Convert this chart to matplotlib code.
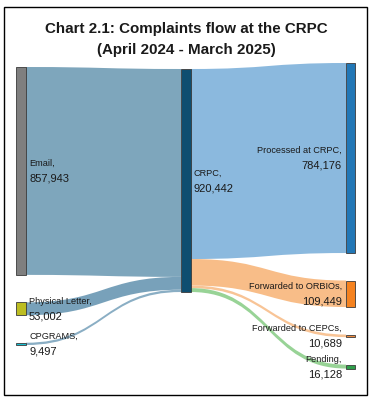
import matplotlib
matplotlib.use("Agg")
import matplotlib.pyplot as plt
from matplotlib.path import Path
from matplotlib.patches import PathPatch, Rectangle
from matplotlib import font_manager
from matplotlib.font_manager import FontProperties

# ---------------- data ----------------
nodes = ["Email", "Physical Letter", "CPGRAMS", "CRPC",
         "Processed at CRPC", "Forwarded to ORBIOs", "Forwarded to CEPCs", "Pending"]
node_columns = [0, 0, 0, 1, 2, 2, 2, 2]
link_sources = ["Email", "Physical Letter", "CPGRAMS", "CRPC", "CRPC", "CRPC", "CRPC"]
link_targets = ["CRPC", "CRPC", "CRPC", "Processed at CRPC", "Forwarded to ORBIOs",
                "Forwarded to CEPCs", "Pending"]
link_values = [857943, 53002, 9497, 784176, 109449, 10689, 16128]
title_lines = ["Chart 2.1: Complaints flow at the CRPC", "(April 2024 - March 2025)"]

# ---------------- styles ----------------
node_colors = {"Email": "#7f7f7f", "Physical Letter": "#bcbd22", "CPGRAMS": "#17becf",
               "CRPC": "#0e4e70", "Processed at CRPC": "#2277b6",
               "Forwarded to ORBIOs": "#f5821f", "Forwarded to CEPCs": "#f08a3e",
               "Pending": "#2e9e4a"}
link_colors = ["#7ea6bc", "#78a1ba", "#8aaec4", "#8bb9de", "#f8bd88", "#f8c496", "#98d396"]

narrow = [f.fname for f in font_manager.fontManager.ttflist
          if "LiberationSansNarrow-Regular" in f.fname.replace(" ", "")]
if narrow:
    name_fp = FontProperties(fname=narrow[0], size=7.6)
    num_fp = FontProperties(fname=narrow[0], size=9.2)
else:
    name_fp = FontProperties(family="Liberation Sans", size=6.6)
    num_fp = FontProperties(family="Liberation Sans", size=8.0)

W, H = 372, 400
K = 4127.0                      # complaints per pixel
col_x = [16, 181, 346]          # left edge of node columns (px)
col_w = [10, 10, 9]
col_top = [67, 69, 63]          # px
GAP = 27.5                      # px between nodes in a column

fig = plt.figure(figsize=(W / 100, H / 100), dpi=100)
ax = fig.add_axes([0, 0, 1, 1])
ax.set_xlim(0, W)
ax.set_ylim(H * K, 0)
ax.axis("off")

# node values
node_val = {}
for n in nodes:
    vin = sum(v for s, t, v in zip(link_sources, link_targets, link_values) if t == n)
    vout = sum(v for s, t, v in zip(link_sources, link_targets, link_values) if s == n)
    node_val[n] = max(vin, vout)

# node positions
pos = {}
cursor = {c: col_top[c] * K for c in range(3)}
for n, c in zip(nodes, node_columns):
    y0 = cursor[c]
    y1 = y0 + node_val[n]
    pos[n] = (c, y0, y1)
    cursor[c] = y1 + GAP * K

# links
out_off = {n: pos[n][1] for n in nodes}
in_off = {n: pos[n][1] for n in nodes}
for s, t, v, lc in zip(link_sources, link_targets, link_values, link_colors):
    cs, cl = pos[s][0], pos[t][0]
    x0 = col_x[cs] + col_w[cs]
    x1 = col_x[cl]
    xm = (x0 + x1) / 2
    s0, s1 = out_off[s], out_off[s] + v
    t0, t1 = in_off[t], in_off[t] + v
    out_off[s] = s1
    in_off[t] = t1
    verts = [(x0, s0), (xm, s0), (xm, t0), (x1, t0), (x1, t1),
             (xm, t1), (xm, s1), (x0, s1), (x0, s0)]
    codes = [Path.MOVETO, Path.CURVE4, Path.CURVE4, Path.CURVE4, Path.LINETO,
             Path.CURVE4, Path.CURVE4, Path.CURVE4, Path.CLOSEPOLY]
    ax.add_patch(PathPatch(Path(verts, codes), facecolor=lc, edgecolor="none", zorder=1))

# nodes + labels
for n in nodes:
    c, y0, y1 = pos[n]
    ax.add_patch(Rectangle((col_x[c], y0), col_w[c], y1 - y0, facecolor=node_colors[n],
                           edgecolor="#3a3a3a", linewidth=0.6, zorder=2))
    yc = (y0 + y1) / 2
    if c < 2:
        tx, ha = col_x[c] + col_w[c] + 3, "left"
    else:
        tx, ha = col_x[c] - 4, "right"
    ax.text(tx, yc - 7.5 * K, n + ",", ha=ha, va="center", fontproperties=name_fp,
            color="#1a1a1a", zorder=3)
    ax.text(tx, yc + 7.5 * K, f"{node_val[n]:,}", ha=ha, va="center", fontproperties=num_fp,
            color="#1a1a1a", zorder=3)

# title
fig.text(0.5, 1 - 29 / H, title_lines[0], ha="center", va="center", fontsize=10.9,
         fontweight="bold", family="Liberation Sans", color="#1a1a1a")
fig.text(0.5, 1 - 50 / H, title_lines[1], ha="center", va="center", fontsize=10.9,
         fontweight="bold", family="Liberation Sans", color="#1a1a1a")

# frame
fig.add_artist(Rectangle((4 / W, 5 / H), 363 / W, 388 / H, transform=fig.transFigure,
                         fill=False, edgecolor="black", linewidth=1.0))

fig.savefig("out.png", dpi=100)
